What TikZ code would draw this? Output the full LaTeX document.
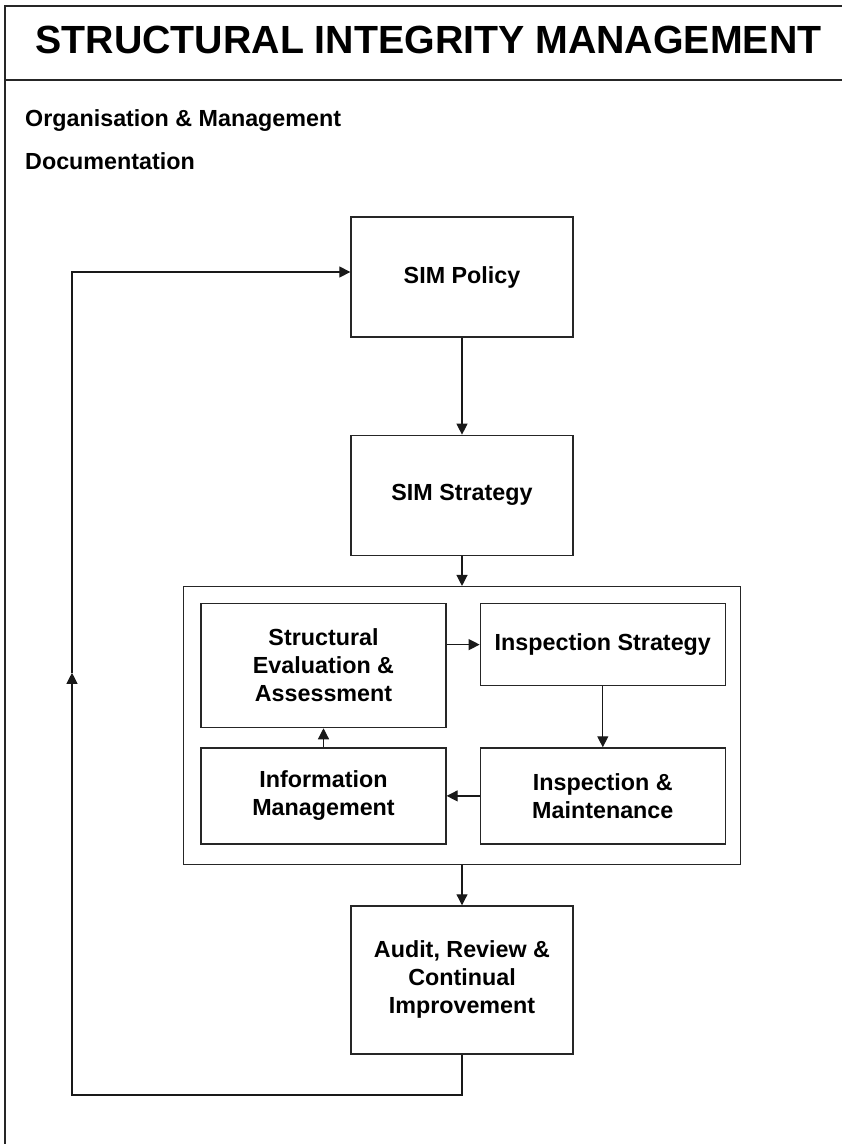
\documentclass[tikz,border=0pt]{standalone}
\usepackage{fontspec}
\setmainfont{Liberation Sans}
\usetikzlibrary{positioning,arrows.meta,calc}

\begin{document}
\begin{tikzpicture}[
    x=1pt, y=1pt,
    >={Triangle[length=11pt,width=11pt]},
    font=\bfseries\fontsize{23.3}{28}\selectfont,
    box/.style={draw=black!85, line width=1.3pt, minimum width=222pt,
                align=center, inner sep=0pt},
    cellbox/.style={box, minimum width=245pt},
    frame/.style={draw=black!85, line width=1.3pt},
    arrow/.style={->, line width=1.2pt, black!90},
    heading/.style={anchor=base west, inner sep=0pt},
]

% === Page frame and header ===
\useasboundingbox (0,0) rectangle (842,-1144);
\begin{scope}
  \clip (0,0) rectangle (842,-1144);
  \draw[frame] (5,-1160) |- (860,-6);
  \draw[frame] (5,-80) -- (860,-80);
\end{scope}

\node[font=\bfseries\fontsize{39.3}{44}\selectfont, anchor=base, inner sep=0pt]
     (title) at (428.5,-53.3) {STRUCTURAL INTEGRITY MANAGEMENT};
\node[heading] (organisation) at (25,-126) {Organisation \& Management};
\node[heading] (documentation) at (25,-169) {Documentation};

% === Main column ===
\node[box, minimum height=120pt] (policy) at (462,-277) {SIM Policy};
\node[box, minimum height=120pt, below=97pt of policy] (strategy) {SIM Strategy};
\node[frame, minimum width=557pt, minimum height=278pt, inner sep=0pt,
      below=30pt of strategy] (cycle) {};

% === Inner cycle ===
\node[cellbox, minimum height=124pt, below right=17pt and 17.5pt of cycle.north west]
     (evaluation) {Structural\\Evaluation \&\\Assessment};
\node[cellbox, minimum height=82pt, right=33pt of evaluation.north east, anchor=north west]
     (inspstrat) {Inspection Strategy};
\node[cellbox, minimum height=96pt, below=61pt of inspstrat]
     (inspmaint) {Inspection \&\\Maintenance};
\node[cellbox, minimum height=96pt, left=33pt of inspmaint]
     (infomgmt) {Information\\Management};

\node[box, minimum height=148pt, below=40pt of cycle]
     (audit) {Audit, Review \&\\Continual\\Improvement};

% === Arrows: main column ===
\draw[arrow] (policy) -- (strategy);
\draw[arrow] (strategy) -- (cycle);
\draw[arrow] (cycle) -- (audit);

% === Arrows: inner cycle ===
\draw[arrow] (evaluation.east |- inspstrat.west) -- (inspstrat.west);
\draw[arrow] (inspstrat) -- (inspmaint);
\draw[arrow] (inspmaint) -- (infomgmt);
\draw[arrow] (infomgmt) -- (evaluation);

% === Feedback loop ===
\coordinate (loopcorner) at (72,-1095);
\coordinate (loopentry) at ([yshift=5pt]policy.west);
\coordinate (loopmid) at ($(loopcorner)!0.513!(loopcorner |- loopentry)$);
\draw[arrow] (audit.south) |- (loopcorner) -- (loopmid);
\draw[arrow] (loopmid) |- (loopentry);

\end{tikzpicture}
\end{document}
